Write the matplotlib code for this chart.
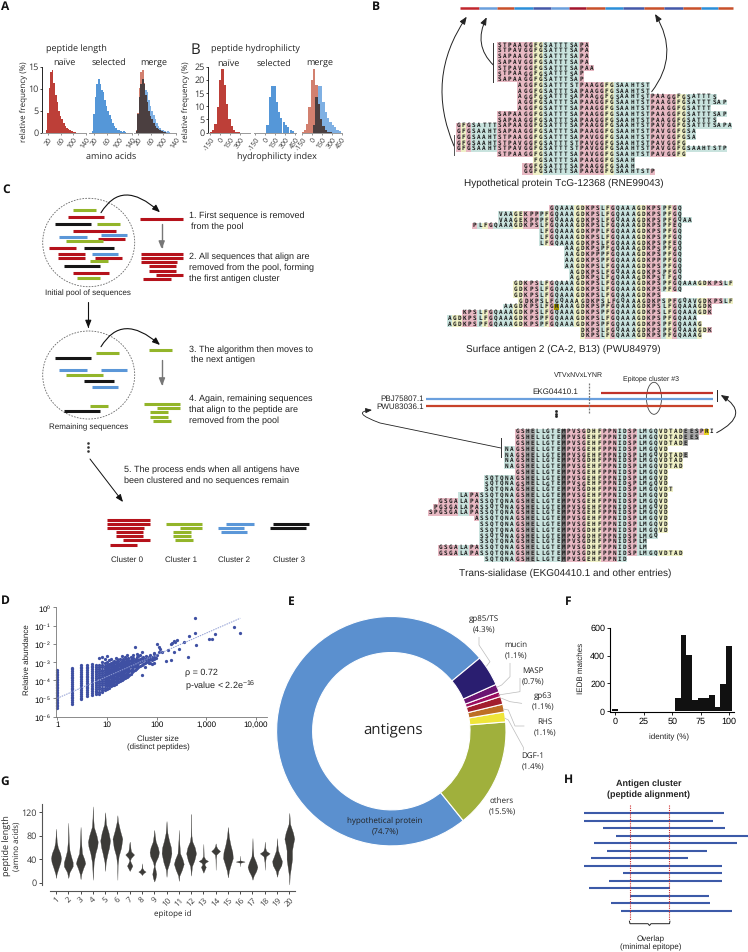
import matplotlib
matplotlib.use('Agg')
import matplotlib.pyplot as plt
import numpy as np
from matplotlib.path import Path
from matplotlib.patches import Ellipse, FancyArrowPatch, PathPatch

plt.rcParams['font.family'] = ['Liberation Sans', 'DejaVu Sans']
plt.rcParams['mathtext.fontset'] = 'custom'
plt.rcParams['mathtext.rm'] = 'Liberation Sans'
plt.rcParams['mathtext.default'] = 'regular'
plt.rcParams['axes.unicode_minus'] = False
plt.rcParams['text.hinting'] = 'no_hinting'
plt.rcParams['text.hinting_factor'] = 1

W, H = 748, 952
SANS = 'Open Sans'
RED, GREEN, BLUE, BLACK = '#b5121b', '#93b52a', '#5b97d8', '#161616'

# panel A, peptide length histograms (bins of 5 aa, percent)
len_bins = [15, 20, 25, 30, 35, 40, 45, 50, 55, 60, 65, 70, 75, 80, 85, 90, 95, 100, 105, 110, 115, 120]
len_naive = [0.5, 4.5, 10.2, 13.8, 14.3, 11.3, 8.5, 7.0, 5.0, 3.8, 3.0, 2.2, 1.5, 1.1, 0.8, 0.5, 0.3, 0.2, 0.1, 0, 0, 0]
len_selected = [0.3, 4.2, 8.2, 11.0, 12.3, 11.0, 9.8, 9.2, 7.5, 6.0, 5.0, 4.0, 3.2, 2.2, 1.6, 1.1, 0.7, 0.5, 0.3, 0.15, 0.4, 0.1]

# panel A right, hydrophilicity histograms
hyd_bins = [-140, -105, -70, -35, 0, 35, 70, 105, 140, 175, 210, 245, 280, 315, 350, 385, 420]
hyd_naive = [0.3, 1.0, 3.3, 9.7, 20.0, 24.0, 18.0, 11.0, 5.0, 2.5, 1.0, 0.3, 0.1, 0, 0, 0, 0]
hyd_selected = [0, 0, 0, 0, 0, 3.0, 13.5, 17.8, 17.7, 11.5, 8.0, 5.5, 4.0, 3.0, 2.0, 1.0, 0.5]

# panel B alignments
seq_bar_colors = ['#c1272d', '#6a9fdc', '#c8502a', '#2a8fd9', '#4458a8', '#6a9fdc', '#a3142c', '#c8502a',
                  '#2a8fd9', '#4458a8', '#c8502a', '#4458a8', '#c8502a', '#2a8fd9', '#c8502a']
seq_bar_edges = [240, 298, 350, 403, 460, 513, 568, 617, 675, 730, 792, 852, 910, 963, 1014, 1058]

aln1_rows = ['STPAAGGFGSATTTSAPA', 'STPAVGGFGSATTTSAPA', 'SAPAAGGFGSATTTSAPA', 'SAPAVGGFGSATTTSAPA',
             'STPAVGGFGSATTTSAPAA', 'STPAAGGFGSATTTSAP', 'SAPAAGGFGSATTTSAP',
             'AGGFGSATTTSTPAAGGFGSAAHTST', 'AGGFGSATTTSAPAAGGFGSAAHTST',
             'AGGFGSATTTSAPAAGGFGSAAHTSTPAAGGFGSATTTS', 'AGGFGSATTTSAPAAGGFGSAAHTSTPAAGGFGSATTTSAP',
             'AGGFGSATTTSAPAAGGFGSAAHTSTPAAGGFGSATTT',
             'SAPAAGGFGSATTTSAPAAGGFGSAAHTSTPAAGGFGSATTTSAP', 'SAPAAGGFGSATTTSAPAAGGFGSAAHTSTPAAGGFGSATTTS',
             'GFGSATTTSAPAAGGFGSATTTSAPAAGGFGSAAHTSTPAVGGFGSATTTSAPA',
             'GFGSAAHTSAPAAGGFGSATTTSAPAAGGFGSAAHTSTPAVGGFGSA',
             'GFGSAAHTSTPAAGGFGSATTTSAPAVGGFGSAAHTSTPAVGGFGSA',
             'GFGSAAHTSTPAVGGFGSATTTSTPAVGGFGSAAHTSTPAVGGFG',
             'GFGSAAHTSTPAVGGFGSATTTSTPAVGGFGSAAHTSTPAVGGFGSAAHTSTP',
             'STPAAGGFGSATTTSAPAVGGFGSAAHTSTPAVGGFG', 'FGSATTTSAPAAGGFGSAAH',
             'GGFGSATTTSAPAAGGFGSAAH', 'GGFGSATTTSAPAAGGFGSAAHTSTP']
aln1_offsets = [8, 8, 8, 8, 8, 8, 8, 12, 12, 12, 12, 12, 8, 8, 0, 0, 0, 0, 0, 8, 15, 13, 13]
aln1_colors = 'pyptttttpppppppyytttttttpppppyytttttttpppppyyttttttttt'

aln2_rows = ['GQAAAGDKPSLFGQAAAGDKPSPFGQ', 'VAAGEKPPPFGQAAAGDKPSLFGQAAAGDKPSPFGQ',
             'VAAGEKPPPFGQAAAGDKPSLFGQAAAGDKPSPFGQAA', 'PLFGQAAAGDKPSLFGQAAAGDKPSLFGQAAAGDKPSPFEQ',
             'LFGQAAAGDKPPLFGQAAAGDKPSPFGQ', 'LFGQAAAGDKPSLFGQAAAGDKPSPFGQ', 'LFGQAAAGDKPSLFGQAAAGDKPSPFEQ',
             'AAGDKPSPFGQAAAGDKPSPFGQ', 'AAGDKPPPFGQAAAGDKPSPFGQ', 'AAGDKPSPFGQAAAGDKPPPFGQ',
             'AAGDKPSLFGQAAAGDKPSPFGQ', 'AGDKPSLFGQAAAGDKPSPFGQ', 'AGDKPSLFGQAAAGDKPSTFGQ',
             'GDKPSLFGQAAAGDKPSLFGQAAAGDKPSPFGQAAAGDKPSLF', 'GDKPSLFGQAAAGDKPSLFGQAAAGDKPSPFGQ',
             'GDKPSLFGQAAAGDKPSLFGQAAAGDKPS', 'GDKPSLFGQAAAGDKPSLFGQAAAGDKPSPFGQAVGDKPSLF',
             'AAGDKPSLFGRAAAGDKPSPFGQAAAGDKPSLFGQAAAGDK', 'KPSLFGQAAAGDKPSLFGQAAAGDKPSPFGQAAAGDKPSLFGQAAAGDK',
             'AGDKPSLFGQAAAGDKPSPFGQAAAGDKPSLFGQAAAGDKPSPFGQAAA',
             'AGDKPSPFGQAAAGDKPSPFGQAAAGDKPSPFGQAAAGDKPSPFGQAAAG',
             'DKPSLFGQAAAGDKPSPFGQAAAGDK', 'DKPSLFGQAAAGDKPSPFGQAAAG']
aln2_offsets = [20, 10, 10, 5, 18, 18, 18, 23, 23, 23, 23, 24, 24, 13, 13, 13, 14, 11, 3, 0, 0, 26, 26]
aln2_colors = 'tyyppptypttt' * 6

_ts = 'GSHELLGTEMPVSG'
aln3_rows = [_ts + 'DHFPPNIDSPLMGQVDTADEESPRI', _ts + 'EHFPPNIDSPLMGQVDTADEES', _ts + 'EHFPPNIDSPLMGQVDTADE',
             'NA' + _ts + 'EHFPPNIDSPLMGQVD', 'NA' + _ts + 'EHFPPNIDSPLMGQVDTADE', 'NA' + _ts + 'DHFPPNIDSPLMGQVDTAD',
             'NA' + _ts + 'EHFPPNIDSPLMGQVDTAD', _ts + 'EHFPPNIDSPLMGQVD',
             'SQTQNA' + _ts + 'EHFPPNIDSPLMGQVD', 'SQTQNA' + _ts + 'EHFPPNIDSPLMGQVD', 'SQTQNA' + _ts + 'DHFPPNIDSPLMGQVDT',
             'LAPASSQTQNA' + _ts + 'EHFPPNIDSPLMGQVD', 'GSGALAPASSQTQNA' + _ts + 'EHFPPNIDSPLMGQVD',
             'PGSGALAPASSQTQNA' + _ts + 'EHFPPNIDSPLMGQVD', 'SPGSGALAPASSQTQNA' + _ts + 'EHFPPNIDSPLMGQVD',
             'ASSQTQNA' + _ts + 'EHFPPNIDSPLMGQVD', 'SSQTQNA' + _ts + 'EHFPPNIDSPLMGQVD', 'SSQTQNA' + _ts + 'DHFPPNIDSPLMGQVD',
             'SSQTQNA' + _ts + 'DHFPPNIDSPLMGQ', 'SSQTQNA' + _ts + 'DHFPPNIDSPLM',
             'GSGALAPASSQTQNA' + _ts + 'DHFPPNIDSPLM', 'GSGALAPASSQTQNA' + _ts + 'DHFPPNIDSPLMGQVDTAD',
             'SQTQNA' + _ts + 'EHFPPNID']
aln3_offsets = [17, 17, 17, 15, 15, 15, 15, 17, 11, 11, 11, 6, 2, 1, 0, 9, 10, 10, 10, 10, 2, 2, 11]
aln3_colors = 'ppppppttpptttttttppggtttttdppppyyypppttppttttyyyyygggpBw'

pool1_red = [(205, 312, 110), (218, 347, 152), (293, 375, 178), (146, 228, 203), (174, 255, 222), (174, 255, 234), (285, 367, 234), (218, 327, 279)]
pool1_green = [(220, 287, 90), (292, 359, 133), (199, 308, 184), (271, 325, 243), (232, 299, 295)]
pool1_blue = [(176, 260, 170), (304, 382, 166), (275, 353, 222)]
pool1_black = [(164, 272, 133), (253, 343, 203), (193, 301, 258)]
red_stack = [(422, 550, 221), (422, 550, 235), (422, 530, 247), (447, 528, 259), (447, 528, 272), (469, 550, 284), (430, 512, 297)]
pool2_green = [(289, 356, 518), (199, 308, 585), (271, 325, 679)]
pool2_blue = [(176, 260, 570), (304, 382, 570), (275, 353, 621)]
pool2_black = [(164, 272, 533), (253, 343, 603), (193, 301, 694)]
green_stack = [(432, 540, 671), (471, 539, 685), (450, 504, 697), (450, 504, 710), (459, 513, 722)]
cluster_red = [(322, 451, 389), (322, 451, 403), (322, 431, 415), (347, 428, 427), (347, 428, 439), (369, 451, 451), (331, 412, 464)]
cluster_green = [(499, 607, 401), (539, 606, 414), (518, 572, 427), (518, 572, 439), (526, 580, 451)]
cluster_blue = [(678, 762, 402), (654, 731, 414), (664, 741, 426)]
cluster_black = [(819, 927, 401), (809, 917, 414)]

# panel D, cluster size with log10 relative abundance per size
d_sizes = [1, 2, 3, 4, 5, 6, 7, 8, 9, 10, 11, 12, 13, 14, 15, 16, 17, 18, 19, 20, 21, 22, 23, 24, 25, 26, 27, 28, 30, 32, 34, 36, 38, 40, 43, 46, 50, 54, 58, 62, 66, 70, 75, 80, 90]
d_abund = [
    [-5.52, -5.44, -5.35, -5.26, -5.17, -5.08, -4.99, -4.9, -4.81, -4.72, -4.63, -4.54, -4.45, -4.36, -4.27, -4.18, -4.09, -4.0, -3.91, -3.82, -3.73, -3.64, -3.55, -3.45],
    [-5.3, -5.2, -5.1, -5.0, -4.9, -4.8, -4.7, -4.6, -4.5, -4.4, -4.3, -4.2, -4.1, -4.0, -3.9, -3.8, -3.7, -3.6, -3.5, -3.4, -3.32],
    [-5.05, -4.95, -4.85, -4.75, -4.65, -4.55, -4.45, -4.35, -4.25, -4.15, -4.05, -3.95, -3.85, -3.75, -3.65, -3.55, -3.45, -3.35, -3.25, -3.15],
    [-4.85, -4.75, -4.65, -4.55, -4.45, -4.35, -4.25, -4.15, -4.05, -3.95, -3.85, -3.75, -3.65, -3.55, -3.45, -3.35, -3.25, -3.15],
    [-4.8, -4.7, -4.6, -4.5, -4.4, -4.3, -4.2, -4.1, -4.0, -3.9, -3.8, -3.7, -3.6, -3.5, -3.4, -3.3, -3.2, -3.1],
    [-4.77, -4.67, -4.57, -4.47, -4.37, -4.27, -4.17, -4.07, -3.97, -3.87, -3.77, -3.67, -3.57, -3.47, -3.37, -3.27, -3.17],
    [-4.75, -4.62, -4.5, -4.38, -4.26, -4.14, -4.02, -3.9, -3.8, -3.7, -3.6, -3.5, -3.4, -3.28, -3.15, -2.8],
    [-4.65, -4.52, -4.4, -4.28, -4.16, -4.04, -3.92, -3.82, -3.72, -3.62, -3.52, -3.42, -3.3, -3.15, -3.0, -2.75],
    [-4.52, -4.4, -4.28, -4.16, -4.04, -3.94, -3.84, -3.74, -3.64, -3.54, -3.44, -3.34, -3.2, -3.05, -2.85],
    [-4.46, -4.32, -4.2, -4.08, -3.96, -3.86, -3.76, -3.66, -3.56, -3.46, -3.36, -3.26, -3.14, -3.0, -2.65],
    [-4.4, -4.28, -4.14, -4.02, -3.9, -3.8, -3.7, -3.6, -3.5, -3.38, -3.26, -3.12, -2.9],
    [-4.32, -4.2, -4.08, -3.96, -3.84, -3.72, -3.62, -3.52, -3.42, -3.3, -3.18, -3.05, -2.85],
    [-4.28, -4.12, -4.0, -3.88, -3.76, -3.64, -3.52, -3.4, -3.28, -3.14, -3.0],
    [-4.24, -4.08, -3.94, -3.8, -3.68, -3.56, -3.44, -3.32, -3.2, -3.06, -2.92],
    [-4.18, -4.02, -3.88, -3.74, -3.62, -3.5, -3.38, -3.26, -3.14, -3.0, -2.78],
    [-4.12, -3.98, -3.84, -3.7, -3.56, -3.42, -3.3, -3.16, -3.02, -2.85],
    [-4.08, -3.92, -3.78, -3.64, -3.5, -3.36, -3.24, -3.1, -2.96],
    [-4.04, -3.88, -3.74, -3.6, -3.46, -3.32, -3.18, -3.04, -2.82],
    [-4.0, -3.84, -3.7, -3.56, -3.42, -3.28, -3.14, -3.0],
    [-3.96, -3.8, -3.66, -3.52, -3.38, -3.24, -3.1, -2.94, -2.66],
    [-3.92, -3.76, -3.6, -3.44, -3.3, -3.16, -3.02, -2.84],
    [-3.9, -3.72, -3.56, -3.4, -3.24, -3.08, -2.92],
    [-3.86, -3.7, -3.52, -3.36, -3.2, -3.04, -2.72],
    [-3.82, -3.64, -3.46, -3.3, -3.14, -2.98, -2.85],
    [-3.8, -3.6, -3.42, -3.26, -3.1, -2.94, -2.62],
    [-3.76, -3.56, -3.38, -3.22, -3.04, -2.88],
    [-3.72, -3.5, -3.34, -3.16, -3.0, -2.78],
    [-3.7, -3.48, -3.3, -3.12, -2.94],
    [-3.64, -3.42, -3.24, -3.06, -2.88, -2.7],
    [-3.56, -3.36, -3.18, -3.0, -2.82],
    [-3.5, -3.3, -3.12, -2.94, -2.76, -2.6],
    [-3.44, -3.24, -3.06, -2.88, -2.18],
    [-3.4, -3.2, -3.0, -2.82],
    [-3.35, -3.14, -2.94, -2.74, -2.55],
    [-3.28, -3.08, -2.9, -2.68],
    [-3.22, -3.0, -2.84, -2.62],
    [-3.69, -3.16, -2.96, -2.78, -2.45],
    [-3.1, -2.9, -2.72],
    [-3.25, -3.04, -2.84],
    [-3.0, -2.86, -2.66],
    [-3.02, -2.82],
    [-3.08, -2.88, -2.72],
    [-3.05, -2.85, -2.6],
    [-3.12, -2.9, -2.72],
    [-3.05, -2.85, -2.75, -2.55]]
d_big_size = [1.94, 1.99, 2.0, 2.0, 2.05, 2.05, 2.06, 2.11, 2.19, 2.23, 2.29, 2.29, 2.31, 2.34, 2.35, 2.36, 2.41, 2.44, 2.54, 2.63, 2.64, 2.77, 2.78, 2.79, 3.05, 3.11, 3.18, 3.55, 3.68]
d_big_abund = [-2.49, -2.8, -2.01, -2.61, -2.19, -2.45, -2.27, -2.45, -2.96, -2.34, -2.89, -2.03, -1.94, -1.85, -2.45, -1.88, -1.79, -2.29, -1.88, -2.7, -1.55, -0.58, -1.41, -2.08, -1.72, -1.72, -1.44, -1.06, -1.39]
d_fit_x = [1, 4800]
d_fit_y = [-4.99, -0.6]

# panel E
ant_names = ['hypothetical protein', 'others', 'DGF-1', 'RHS', 'gp63', 'MASP', 'mucin', 'gp85/TS']
ant_share = [74.7, 15.5, 1.4, 1.1, 1.1, 0.7, 1.1, 4.3]
ant_colors = ['#5b90cf', '#a0b03c', '#efe53a', '#bd6e25', '#a21d2e', '#9c0d5f', '#6b1472', '#2a1e70']

# panel F
iedb_bins = [0, 5, 10, 15, 20, 25, 30, 35, 40, 45, 50, 55, 60, 65, 70, 75, 80, 85, 90, 95, 100]
iedb_count = [17, 1, 1, 1, 1, 1, 1, 1, 1, 1, 5, 95, 550, 405, 80, 92, 97, 115, 28, 195, 468]

# panel G, violin outlines as (length, half width)
violins = [
    [(8, 0), (15, .05), (25, .2), (35, .36), (42, .41), (50, .34), (60, .15), (70, .06), (80, .03), (92, 0)],
    [(8, 0), (18, .1), (28, .36), (35, .36), (45, .22), (55, .1), (70, .04), (85, .02), (102, 0)],
    [(6, 0), (15, .06), (25, .22), (33, .38), (40, .3), (50, .12), (65, .06), (80, .03), (95, 0)],
    [(5, 0), (20, .03), (35, .07), (50, .2), (62, .36), (70, .4), (80, .3), (95, .08), (110, .03), (130, 0)],
    [(20, 0), (35, .05), (50, .2), (60, .32), (72, .4), (85, .28), (100, .07), (115, .02), (120, 0)],
    [(5, 0), (30, .02), (45, .1), (60, .3), (75, .4), (90, .2), (105, .04), (115, 0)],
    [(20, 0), (24, .1), (29, .22), (34, .1), (38, .03), (42, .1), (48, .36), (53, .12), (58, .07), (65, .04), (70, 0)],
    [(13, 0), (16, .1), (19, .3), (21, .15), (25, .03), (33, 0)],
    [(2, 0), (8, .1), (15, .16), (22, .1), (28, .03), (35, .1), (45, .32), (52, .38), (60, .3), (70, .12), (80, .05), (90, 0)],
    [(10, 0), (22, .05), (35, .25), (50, .4), (60, .36), (72, .2), (85, .07), (105, 0)],
    [(3, 0), (12, .05), (22, .25), (32, .4), (40, .3), (50, .1), (65, .05), (75, .02), (90, 0)],
    [(12, 0), (28, .07), (38, .26), (50, .4), (60, .3), (70, .1), (80, .03), (95, .01), (117, 0)],
    [(17, 0), (22, .1), (27, .2), (31, .08), (34, .15), (37, .38), (40, .15), (45, .03), (55, .015), (66, 0)],
    [(22, 0), (40, .015), (48, .06), (54, .36), (58, .15), (62, .05), (67, 0)],
    [(9, 0), (20, .08), (30, .22), (42, .4), (52, .36), (65, .2), (78, .08), (95, 0)],
    [(28, 0), (34, .015), (36, .36), (38, .015), (46, 0)],
    [(5, 0), (12, .1), (20, .3), (27, .4), (35, .28), (45, .08), (60, .025), (76, 0)],
    [(22, 0), (35, .02), (45, .1), (50, .4), (54, .12), (60, .03), (70, 0)],
    [(10, 0), (20, .1), (30, .35), (37, .4), (45, .25), (55, .08), (65, .03), (76, 0)],
    [(-3, 0), (12, .03), (25, .12), (40, .22), (55, .22), (65, .3), (75, .4), (85, .3), (100, .06), (119, 0)]]

# panel H
h_peptides = [(102, 522, 189), (102, 490, 212), (160, 526, 235), (197, 594, 257), (132, 561, 280), (170, 472, 302), (123, 413, 325),
              (102, 515, 347), (220, 517, 370), (176, 517, 393), (117, 360, 415), (240, 476, 438), (182, 479, 460), (213, 546, 483)]

fig = plt.figure(figsize=(W / 100, H / 100), dpi=100)
ov = fig.add_axes([0, 0, 1, 1], zorder=5)
ov.set_xlim(0, W)
ov.set_ylim(H, 0)
ov.axis('off')
ov.patch.set_alpha(0)


def px_axes(x0, y0, x1, y1):
    ax = fig.add_axes([x0 / W, 1 - y1 / H, (x1 - x0) / W, (y1 - y0) / H])
    ax.patch.set_alpha(0)
    for s in ['top', 'right']:
        ax.spines[s].set_visible(False)
    return ax


def txt(x, y, s, size=6.2, ha='left', **kw):
    kw.setdefault('color', '#222222')
    return ov.text(x, y, s, fontsize=size, ha=ha, va='center', **kw)


def segs(items, color, ox, oy, lw=2.2):
    # items are in coordinates of a 3x crop with its corner at ox, oy
    for x0, x1, y in items:
        ov.plot([ox + x0 / 3, ox + x1 / 3], [oy + y / 3, oy + y / 3], color=color, lw=lw, solid_capstyle='butt')


def arrow(p0, ctrl, p1, color='#222222', lw=0.7, scale=6):
    if ctrl is None:
        path = Path([p0, p1], [Path.MOVETO, Path.LINETO])
    else:
        path = Path([p0, ctrl, p1], [Path.MOVETO, Path.CURVE3, Path.CURVE3])
    ov.add_patch(FancyArrowPatch(path=path, arrowstyle='-|>,head_width=0.3,head_length=0.75',
                                 mutation_scale=scale, color=color, lw=lw, shrinkA=0, shrinkB=0))


def hist(ax, bins, a, b, width, xlim, xticks, ylim, yticks, left=False):
    a, b = np.array(a), np.array(b)
    if a.any() and b.any():
        ax.bar(bins, a, width=width, color='#d2806f', linewidth=0)
        ax.bar(bins, b, width=width, color='#7fb0e3', linewidth=0)
        ax.bar(bins, np.minimum(a, b), width=width, color='#4b3f40', linewidth=0)
    elif a.any():
        ax.bar(bins, a, width=width, color='#bd3f38', linewidth=0)
    else:
        ax.bar(bins, b, width=width, color='#5597d8', linewidth=0)
    ax.set_xlim(*xlim)
    ax.set_ylim(*ylim)
    ax.set_xticks(xticks)
    ax.set_xticklabels(xticks, rotation=55, ha='right', rotation_mode='anchor', fontsize=5.1, family=SANS, color='#333333')
    ax.tick_params(axis='x', length=1.5, width=0.5, pad=1, color='#666666')
    ax.spines['bottom'].set_color('#999999')
    ax.spines['bottom'].set_linewidth(0.7)
    if left:
        ax.set_yticks(yticks)
        ax.set_yticklabels(yticks, fontsize=6.2, family=SANS, color='#333333')
        ax.tick_params(axis='y', length=1.5, width=0.5, pad=1)
        ax.spines['left'].set_linewidth(0.6)
    else:
        ax.set_yticks([])
        ax.spines['left'].set_visible(False)


# panel A
per = 38.4 / 120
for x20, x_left, x_right, a, b, name in [(48, 42, 86, len_naive, [0] * 22, 1), (94, 89, 132, [0] * 22, len_selected, 0), (138, 134, 176, len_naive, len_selected, 0)]:
    ax = px_axes(x_left, 66.7, x_right, 132.7)
    hist(ax, len_bins, a, b, 5, (20 + (x_left - x20) / per, 20 + (x_right - x20) / per), [20, 60, 100, 140], (0, 15), [0, 5, 10, 15], left=name == 1)
per = 10 / 150
for x0, x_left, x_right, a, b, name in [(220, 208, 250, hyd_naive, [0] * 17, 1), (265, 254, 296, [0] * 17, hyd_selected, 0), (311.7, 302, 342, hyd_naive, hyd_selected, 0)]:
    ax = px_axes(x_left, 66.7, x_right, 132.7)
    hist(ax, hyd_bins, a, b, 35, ((x_left - x0) / per, (x_right - x0) / per), [-150, 0, 150, 300] if name else [-150, 0, 150, 300, 450], (0, 25), [0, 5, 10, 15, 20, 25], left=name == 1)

for x, y, s, sz in [(76, 49, 'peptide length', 6.6), (64, 63, 'naïve', 6.6), (109, 63, 'selected', 6.6), (154, 63, 'merge', 6.6),
                    (111, 157, 'amino acids', 6.6), (255, 49, 'peptide hydrophilicty', 6.6), (228, 64, 'naïve', 6.6),
                    (274, 64, 'selected', 6.6), (320, 64, 'merge', 6.6), (277, 157, 'hydrophilicty index', 6.6)]:
    txt(x, y, s, sz, ha='center', family=SANS)
txt(24, 102, 'relative frequency (%)', 5.9, ha='center', family=SANS, rotation=90)
txt(186, 102, 'relative frequency (%)', 5.9, ha='center', family=SANS, rotation=90)
txt(195, 50, 'B', 11, ha='center', family=SANS)

for x, y, s in [(5, 7, 'A'), (376, 7, 'B'), (6, 190, 'C'), (5, 601, 'D'), (291, 602, 'E'), (568, 602, 'F'), (5, 782, 'G'), (569, 780, 'H')]:
    txt(x, y, s, 8.5, ha='center', family=SANS, weight='bold', color='#111111')

# panel B
CELL = {'p': '#e8b9c3', 't': '#c9e3de', 'y': '#eff0c6', 'g': '#a9a9a9', 'd': '#7a7a7a', 'B': '#e6d21f', 'w': '#ffffff', 'H': '#a89a00'}


def alignment(rows, offsets, colors, x0, y0, dy, marks=()):
    dx = 5.11
    xs, ys, cs = [], [], []
    for i, (row, off) in enumerate(zip(rows, offsets)):
        for j, ch in enumerate(row):
            col = off + j
            key = colors[col] if col < len(colors) else 't'
            if (i, j) in marks:
                key = 'H'
            xs.append(x0 + col * dx)
            ys.append(y0 + i * dy)
            cs.append(CELL[key])
            ov.text(x0 + (col + 0.5) * dx, y0 + i * dy, ch, fontsize=4.4, family='DejaVu Sans Mono', weight='bold',
                    ha='center', va='center', color='#1a1a1a')
    ov.bar(xs, dy, width=dx, bottom=np.array(ys) - dy / 2, align='edge', color=cs, linewidth=0)


for i, c in enumerate(seq_bar_colors):
    ov.plot([380 + seq_bar_edges[i] / 3, 380 + seq_bar_edges[i + 1] / 3], [7.5, 7.5], color=c, lw=1.8, solid_capstyle='butt')

alignment(aln1_rows, aln1_offsets, aln1_colors, 456, 45, 5.76)
alignment(aln2_rows, aln2_offsets, aln2_colors, 446.7, 208.3, 5.79, marks=[(17, 10)])
alignment(aln3_rows, aln3_offsets, aln3_colors, 427.7, 431.7, 5.79)

txt(564, 183, 'Hypothetical protein TcG-12368 (RNE99043)', 7.45, ha='center')
txt(563, 349, 'Surface antigen 2 (CA-2, B13) (PWU84979)', 7.45, ha='center')
txt(565, 573, 'Trans-sialidase (EKG04410.1 and other entries)', 7.45, ha='center')

ov.plot([454, 454], [135, 155], color='#555555', lw=0.7)
ov.plot([493.3, 493.3], [42.7, 82.3], color='#333333', lw=0.7)
arrow((454, 146), (425, 78), (466.7, 16.7))
arrow((493.3, 65), (473, 45), (486.7, 17.3))
arrow((651.7, 91.7), (680, 55), (655, 14))

ov.plot([426, 712.7], [399, 399], color='#6ba0de', lw=1.6, solid_capstyle='butt')
ov.plot([426, 712.7], [406, 406], color='#c8432a', lw=1.6, solid_capstyle='butt')
ov.plot([600.7, 712.7], [393, 393], color='#c0332a', lw=1.6, solid_capstyle='butt')
ov.plot([589, 589], [382.7, 412.7], color='#777777', lw=0.9, ls=(0, (1.5, 1)))
ov.add_patch(Ellipse((654, 398.3), 15, 32, fill=False, ec='#444444', lw=0.6))
ov.plot([717, 717], [390, 401], color='#222222', lw=0.7)
ov.plot([555.7, 555.7, 555.7], [411, 413.5, 416], ls='none', marker='s', ms=0.9, color='#222222')
txt(424, 399, 'PBJ75807.1', 5.8, ha='right')
txt(424, 406.5, 'PWU83036.1', 5.8, ha='right')
txt(555, 391.7, 'EKG04410.1', 5.8, ha='center')
txt(578.7, 375, 'VTVxNVxLYNR', 5.2, ha='center')
txt(650.7, 378.7, 'Epitope cluster #3', 5.4, ha='center')
ov.plot([501, 501], [438, 457], color='#333333', lw=0.7)
ov.add_patch(FancyArrowPatch(path=Path([(501, 448), (380, 423), (350, 412), (372, 410)],
                                       [Path.MOVETO, Path.LINETO, Path.CURVE3, Path.CURVE3]),
                             arrowstyle='-|>,head_width=0.3,head_length=0.75', mutation_scale=5, color='#222222', lw=0.6, shrinkA=0, shrinkB=0))
arrow((716.7, 432.7), (752, 414), (720.7, 395))

# panel C
for cy, h in [(242.5, 88.4), (375, 88)]:
    ov.add_patch(Ellipse((88.7, cy), 92, h, fill=False, ec='#666666', lw=0.6, ls=(0, (2, 1.5))))
segs(pool1_red, RED, 0, 180)
segs(pool1_green, GREEN, 0, 180)
segs(pool1_blue, BLUE, 0, 180)
segs(pool1_black, BLACK, 0, 180)
segs(pool2_green, GREEN, 0, 180)
segs(pool2_blue, BLUE, 0, 180)
segs(pool2_black, BLACK, 0, 180)
segs([(421, 549, 116)], RED, 0, 180)
segs(red_stack, RED, 0, 180)
segs([(448, 515, 511)], GREEN, 0, 180)
segs(green_stack, GREEN, 0, 180)
segs(cluster_red, RED, 0, 390)
segs(cluster_green, GREEN, 0, 390)
segs(cluster_blue, BLUE, 0, 390)
segs(cluster_black, BLACK, 0, 390)

arrow((101, 212.7), (122, 178), (160, 212.3), color='#111111', lw=0.8)
arrow((101, 346.7), (122, 312), (160, 345), color='#111111', lw=0.8)
arrow((161.7, 224), None, (161.7, 249), color='#777777', lw=1.0)
arrow((162, 360), None, (162, 386), color='#777777', lw=1.0)
arrow((88.3, 302), None, (88.3, 328), color='#111111', lw=0.8)
arrow((90, 459), None, (123, 502), color='#111111', lw=0.7)
ov.plot([88.3, 88.3, 88.3], [443.3, 447.3, 451.3], ls='none', marker='s', ms=0.8, color='#333333')

for x, y, s in [(189.3, 216, '1. First sequence is removed'), (191.3, 227, 'from the pool'),
                (189.3, 257, '2. All sequences that align are'), (189.3, 268, 'removed from the pool, forming'),
                (189.3, 279, 'the first antigen cluster'), (189.3, 349.7, '3. The algorithm then moves to'),
                (191.3, 360.3, 'the next antigen'), (189, 398.7, '4. Again, remaining sequences'),
                (189, 409.7, 'that align to the peptide are'), (189, 420.7, 'removed from the pool'),
                (124, 470, '5. The process ends when all antigens have'), (124, 481, 'been clustered and no sequences remain')]:
    txt(x, y, s, 6.5)
txt(88.3, 293.7, 'Initial pool of sequences', 5.7, ha='center')
txt(88.3, 427, 'Remaining sequences', 5.7, ha='center')
for x, s in zip([127, 181.3, 234, 288.7], ['Cluster 0', 'Cluster 1', 'Cluster 2', 'Cluster 3']):
    txt(x, 560, s, 5.7, ha='center')

# panel D
ax = px_axes(56, 607.3, 266.7, 716.7)
for s, vals in zip(d_sizes, d_abund):
    ax.scatter([s] * len(vals), 10.0 ** np.array(vals), s=5.5, color='#3f50a3', linewidths=0, clip_on=False)
ax.scatter(10.0 ** np.array(d_big_size), 10.0 ** np.array(d_big_abund), s=5.5, color='#3f50a3', linewidths=0)
ax.plot(d_fit_x, 10.0 ** np.array(d_fit_y), color='#8c9ad2', lw=0.7, ls=(0, (1.5, 1)))
ax.set_xscale('log')
ax.set_yscale('log')
ax.set_xlim(10 ** -0.026, 10 ** 4.213)
ax.set_ylim(1e-6, 1)
ax.set_xticks([1, 10, 100, 1000, 10000])
ax.set_xticklabels(['1', '10', '100', '1,000', '10,000'], fontsize=5.6)
ax.set_yticks([10.0 ** -e for e in range(7)])
ax.set_yticklabels(['10$^{%d}$' % -e if e else '10$^{0}$' for e in range(7)], fontsize=5.6)
ax.minorticks_off()
ax.tick_params(length=2, width=0.5, pad=1.5, color='#555555')
for s in ['left', 'bottom']:
    ax.spines[s].set_color('#777777')
    ax.spines[s].set_linewidth(0.6)
txt(27, 660, 'Relative abundance', 5.9, ha='center', rotation=90)
txt(158, 739, 'Cluster size', 5.7, ha='center')
txt(158, 747.5, '(distinct peptides)', 5.7, ha='center')
txt(185, 673, 'ρ = 0.72', 6.8)
txt(185, 686, 'p-value < 2.2e$^{-16}$', 6.8)

# panel E
ax = fig.add_axes([(391.3 - 114.7) / W, 1 - (731.2 + 114.7) / H, 229.4 / W, 229.4 / H])
ax.pie(ant_share, colors=ant_colors, startangle=39.6, radius=1, counterclock=True,
       wedgeprops=dict(width=1 - 0.686, edgecolor='white', linewidth=0.8))
ax.set_xlim(-1, 1)
ax.set_ylim(-1, 1)
txt(392.7, 730, 'antigens', 11, ha='center', family=SANS, color='#222222')
ant_label_x = [385, 502, 532.7, 545, 543, 532.7, 516, 484]
ant_label_y = [821, 800.7, 756.3, 722, 696, 671, 645, 619]
for name, share, x, y in zip(ant_names, ant_share, ant_label_x, ant_label_y):
    txt(x, y, name, 6.1, ha='center', family=SANS)
    txt(x, y + 11.7, '(%.1f%%)' % share, 6.1, ha='center', family=SANS)
for pts in [[(627, 142), (627, 165), (660, 215), (650, 228)], [(720, 220), (720, 260), (695, 285), (680, 292)],
            [(750, 265), (750, 305), (685, 315)], [(755, 340), (720, 335), (695, 325)],
            [(762, 408), (735, 408), (715, 360), (700, 357)], [(760, 480), (760, 472), (715, 390), (705, 385)]]:
    ov.plot([270 + p[0] / 3 for p in pts], [590 + p[1] / 3 for p in pts], color='#bbbbbb', lw=0.5)

# panel F
ax = px_axes(610, 620, 734, 712.3)
ax.bar(iedb_bins, iedb_count, width=5, color='#111111', linewidth=0)
ax.set_xlim((610 - 615.3) / 1.137, (734 - 615.3) / 1.137)
ax.set_ylim(-1 / 0.1394, (712.3 - 620) / 0.1394 - 1 / 0.1394)
ax.set_xticks([0, 25, 50, 75, 100])
ax.set_yticks([0, 200, 400, 600])
ax.tick_params(labelsize=6.2, length=2, width=0.6, pad=1.5)
ax.spines['left'].set_bounds(0, 600)
txt(580.7, 668, 'IEDB matches', 5.9, ha='center', rotation=90)
txt(668.7, 737, 'identity (%)', 5.9, ha='center')

# panel G
ax = px_axes(41.7, 804, 295, 891)
for i, v in enumerate(violins):
    ys = [p[0] for p in v]
    ws = np.array([p[1] for p in v])
    ax.fill_betweenx(ys, i + 1 - ws, i + 1 + ws, color='#3c3b38', linewidth=0.2)
ax.set_xlim(1 + (41.7 - 56) / 12.28, 1 + (295 - 56) / 12.28)
ax.set_ylim((882.7 - 891) / 0.587, (882.7 - 804) / 0.587)
ax.set_yticks([0, 40, 80, 120])
ax.set_yticklabels([0, 40, 80, 120], fontsize=6.2, family=SANS, color='#333333')
ax.set_xticks(range(1, 21))
ax.set_xticklabels(range(1, 21), rotation=45, fontsize=5.6, family=SANS, color='#333333')
ax.tick_params(length=2, width=0.5, pad=1.5)
ax.spines['left'].set_bounds((882.7 - 885) / 0.587, (882.7 - 804) / 0.587)
ax.spines['bottom'].set_bounds(1 + (50 - 56) / 12.28, 1 + (295 - 56) / 12.28)
ax.spines['left'].set_color('#555555')
ax.spines['bottom'].set_color('#555555')
txt(173, 914, 'epitope id', 6.1, ha='center', family=SANS)
txt(7.3, 846, 'peptide length', 6.2, ha='center', family=SANS, rotation=90)
txt(17, 846, '(amino acids)', 5.9, ha='center', family=SANS, rotation=90)

# panel H
segs(h_peptides, '#3c5aa8', 550, 750, lw=1.5)
for x in [241, 358]:
    ov.plot([550 + x / 3, 550 + x / 3], [750 + 165 / 3, 750 + 510 / 3], color='#cc2a2a', lw=0.8, ls=(0, (1, 1)))
brace = Path([(629.3, 920.7), (630, 923.7), (632, 923.7), (648, 923.7), (649.5, 925.5), (651, 923.7), (667, 923.7), (669.5, 923.7), (670, 920.7)])
ov.add_patch(PathPatch(brace, fill=False, lw=0.7, ec='#222222'))
txt(649, 784, 'Antigen cluster', 6.8, ha='center', weight='bold')
txt(649, 795, '(peptide alignment)', 6.8, ha='center', weight='bold')
txt(650.3, 939, 'Overlap', 5.9, ha='center')
txt(650.3, 947, '(minimal epitope)', 5.9, ha='center')

fig.savefig('out.png', dpi=100)
